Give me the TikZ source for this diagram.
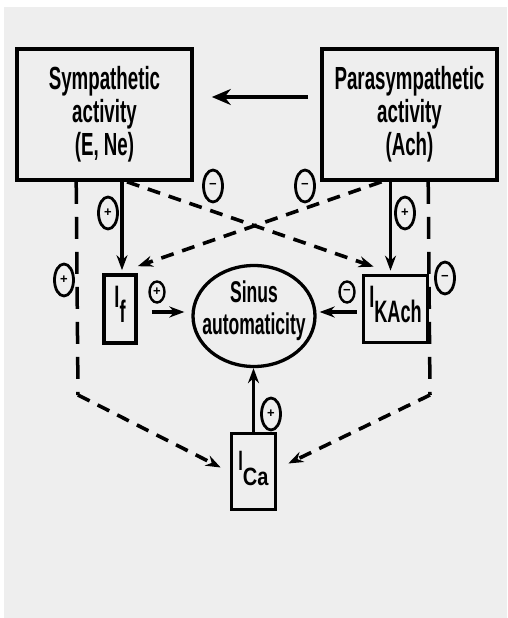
\documentclass[tikz,border=0pt]{standalone}
\usepackage{fontspec}
\setmainfont{Liberation Sans}
\newfontfamily\lab[FakeStretch=0.585]{Liberation Sans}
\newfontfamily\labw[FakeStretch=0.8]{Liberation Sans}
\usetikzlibrary{arrows.meta,shapes.geometric,calc}
\definecolor{bg}{HTML}{EEEEEE}
\newcommand\curr[2]{\raisebox{2pt}[0pt][0pt]{I\raisebox{-15pt}{#1#2}}}
\tikzset{
  box/.style={draw, line width=3.6pt, rectangle, inner sep=0pt},
  bigtext/.style={font=\lab\bfseries\fontsize{32}{33}\selectfont, align=center},
  curfont/.style={font=\lab\bfseries\fontsize{31}{31}\selectfont},
  elltext/.style={font=\lab\bfseries\fontsize{30}{32}\selectfont, align=center, inner sep=0pt},
  sign/.style={draw, ellipse, line width=2.8pt, inner sep=0pt, minimum width=19pt, minimum height=32pt, font=\bfseries\fontsize{13}{13}\selectfont},
  smallsign/.style={sign, minimum width=15pt, minimum height=21pt, line width=2.4pt},
  dashv/.style={line width=3.5pt, dash pattern=on 22pt off 13pt},
  dashd/.style={line width=3.6pt, dash pattern=on 13pt off 9pt},
  conn/.style={line width=3.3pt},
  arr/.style={-{Stealth[length=15pt,width=11pt]}},
  bigarr/.style={-{Stealth[length=19pt,width=16pt]}}
}
\begin{document}
\begin{tikzpicture}[x=1pt,y=-1pt]
\useasboundingbox (0,0) rectangle (507,618);
\fill[bg] (4,7) rectangle (507,618);

% boxes
\node[box, minimum width=175pt, minimum height=131pt, bigtext] (symp) at (104.5,114.5) {Sympathetic\\activity\\(E, Ne)};
\node[box, minimum width=175pt, minimum height=131pt, bigtext] (para) at (409.5,114.5) {Parasympathetic\\activity\\(Ach)};
\node[box, minimum width=32pt, minimum height=68pt, curfont] (If) at (120,309) {\curr{f}{}};
\node[box, minimum width=64pt, minimum height=67pt, curfont] (KAch) at (395.5,309) {\curr{KAch}{}};
\node[box, minimum width=44pt, minimum height=76pt, curfont] (ICa) at (253.5,471.5) {\raisebox{1pt}[0pt][0pt]{\fontsize{28}{28}\selectfont I\raisebox{-15pt}{\labw\bfseries\fontsize{25}{25}\selectfont Ca}}};
\node[draw, ellipse, line width=3.3pt, minimum width=122pt, minimum height=101pt, inner sep=0pt] (ell) at (254,316) {};
\node[elltext] (ellt) at (254,311) {Sinus\\automaticity};

% top arrow
\draw[conn, line width=3.8pt, bigarr] ($(para.west)+(-12,-17.5)$) -- ($(symp.east)+(18,-17.5)$);

% solid arrows to currents
\draw[conn, arr] ($(symp.south -| If.north)+(2,0)$) -- ($(If.north)+(2,-3)$);
\draw[conn, arr] ($(para.south -| KAch.north)+(-5,0)$) -- ($(KAch.north)+(-5,-3)$);

% crossing dashed arrows
\draw[dashd, arr] ($(symp.south)+(22.5,0)$) -- ($(KAch.north west)+(12,-7)$);
\draw[dashd, arr] ($(para.south)+(-28,0)$) -- ($(If.north east)+(0,-7)$);

% outer dashed paths to ICa
\coordinate (lk) at (78,395);
\coordinate (rk) at (430,395);
\draw[dashv] ($(symp.south west)+(61,0)$) -- (lk);
\draw[dashd, arr] (lk) -- ($(ICa.west)+(-9,-4)$);
\draw[dashv] ($(para.south west)+(108,0)$) -- (rk);
\draw[dashd, arr] (rk) -- ($(ICa.east)+(11,-8)$);

% currents to sinus automaticity
\draw[conn, arr] ($(If.east)+(14,3)$) -- ($(ell.west)+(-7,-4)$);
\draw[conn, arr] ($(KAch.west)+(-5,3)$) -- ($(ell.east)+(3,-4)$);
\draw[conn, arr] (ICa.north) -- (ICa.north |- ell.south);

% signs
\node[sign] (s1) at (64,280) {+};
\node[sign] (s2) at (108,213) {+};
\node[sign] (s3) at (213,186) {−};
\node[sign] (s4) at (305,186) {−};
\node[sign] (s5) at (405,213) {+};
\node[sign] (s6) at (445,278) {−};
\node[smallsign] (s7) at (157,292) {+};
\node[smallsign] (s8) at (347,292) {−};
\node[sign] (s9) at (271,414) {+};
\end{tikzpicture}
\end{document}
